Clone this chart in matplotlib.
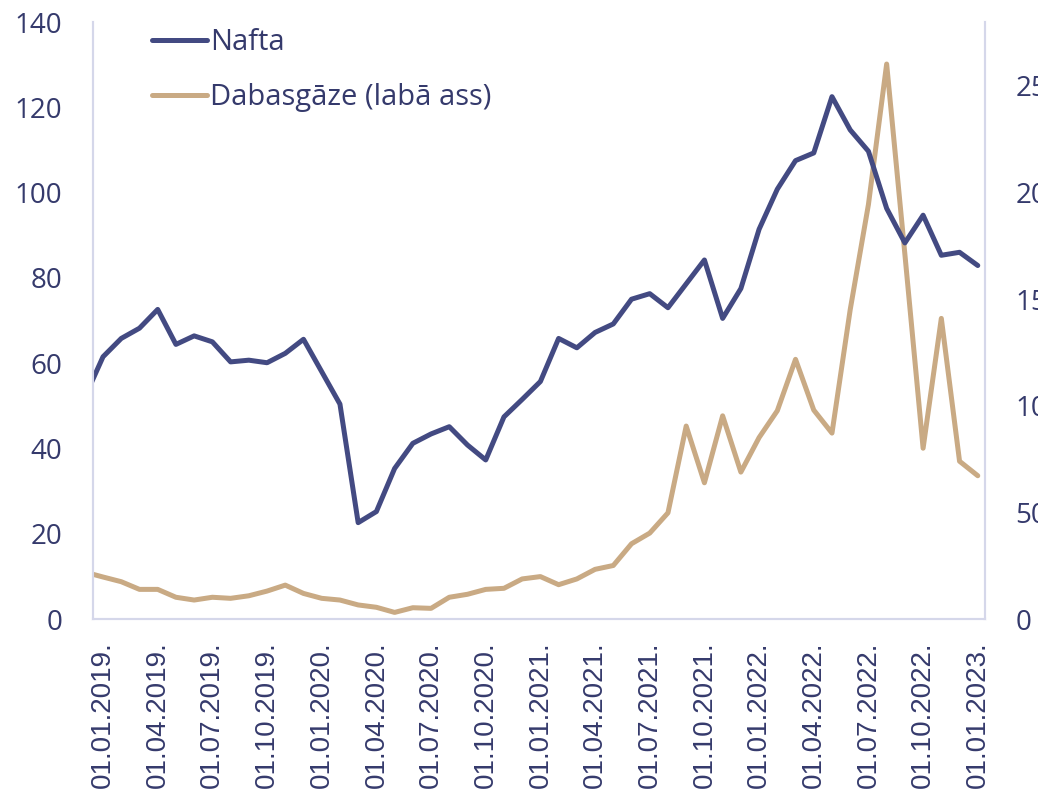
import numpy as np
import matplotlib
matplotlib.use("Agg")
import matplotlib.pyplot as plt

# mēneši no 12.2018 līdz 01.2023 (pirmais punkts nogriezts pie ass)
months = list(range(-1, 49))

nafta = [52.0, 61.5, 65.8, 68.2, 72.6, 64.4, 66.4, 65.0, 60.3, 60.7,
         60.1, 62.3, 65.6, 58.0, 50.4, 22.6, 25.2, 35.3, 41.2, 43.4,
         45.1, 40.8, 37.3, 47.4, 51.5, 55.7, 65.8, 63.6, 67.2, 69.2,
         75.0, 76.3, 73.0, 78.6, 84.2, 70.5, 77.5, 91.4, 100.8, 107.5,
         109.3, 122.5, 114.7, 109.7, 96.3, 88.2, 94.7, 85.3, 86.0, 82.9]

gaze = [22.0, 19.7, 17.5, 13.9, 13.9, 10.2, 8.9, 10.2, 9.7, 10.9,
        13.1, 15.9, 12.0, 9.7, 8.9, 6.6, 5.5, 3.1, 5.3, 5.0,
        10.2, 11.6, 13.9, 14.4, 18.8, 19.9, 16.1, 18.8, 23.3, 25.1,
        35.3, 40.3, 49.8, 90.5, 63.9, 95.3, 68.9, 85.1, 97.7, 121.8,
        98.0, 87.2, 145.1, 194.4, 260.3, 171.1, 80.1, 141.0, 74.0, 67.2]

tick_pos = list(range(0, 49, 3))
tick_labels = ['01.01.2019.', '01.04.2019.', '01.07.2019.', '01.10.2019.',
               '01.01.2020.', '01.04.2020.', '01.07.2020.', '01.10.2020.',
               '01.01.2021.', '01.04.2021.', '01.07.2021.', '01.10.2021.',
               '01.01.2022.', '01.04.2022.', '01.07.2022.', '01.10.2022.',
               '01.01.2023.']

navy = '#434a82'
tan = '#c9aa84'
txt = '#353a6c'
spine_c = '#d5d7ea'

plt.rcParams['font.family'] = ['Open Sans', 'DejaVu Sans']

fig = plt.figure(figsize=(10.38, 8.01), dpi=100)
ax = fig.add_axes([0.0896, 0.2272, 0.8594, 0.7453])
ax2 = ax.twinx()

l1, = ax.plot(months, nafta, color=navy, lw=3.6, solid_joinstyle='round',
              solid_capstyle='round', label='Nafta')
l2, = ax2.plot(months, gaze, color=tan, lw=3.6, solid_joinstyle='round',
               solid_capstyle='round', label='Dabasgāze (labā ass)')
ax.set_zorder(ax2.get_zorder() + 1)
ax.patch.set_visible(False)

ax.set_xlim(-0.55, 48.4)
ax.set_ylim(0, 140)
ax2.set_ylim(0, 280)
ax.set_yticks(range(0, 141, 20))
ax2.set_yticks(range(0, 251, 50))
ax.set_xticks(tick_pos)
ax.set_xticklabels(tick_labels, rotation=90, family='Liberation Sans')

for a in (ax, ax2):
    a.tick_params(length=0, labelsize=20, colors=txt, pad=22)
    a.spines['top'].set_visible(False)
    for s in ('left', 'right', 'bottom'):
        a.spines[s].set_color(spine_c)
        a.spines[s].set_linewidth(1.5)
ax.tick_params(axis='x', pad=16, labelsize=20)

leg = ax.legend(handles=[l1, l2], loc='upper left', bbox_to_anchor=(0.066, 0.99),
                frameon=False, fontsize=21, handlelength=1.9, handletextpad=0.1,
                labelspacing=0.9, borderaxespad=0, borderpad=0)
for t in leg.get_texts():
    t.set_color(txt)

fig.savefig('out.png', dpi=100)
